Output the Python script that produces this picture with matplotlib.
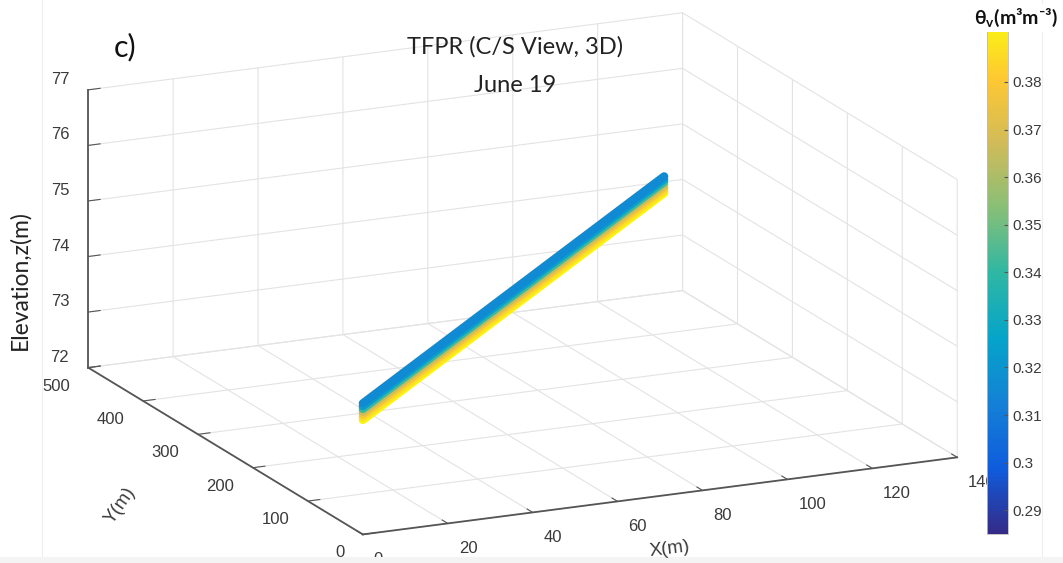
import numpy as np
import matplotlib
matplotlib.use("Agg")
import matplotlib.pyplot as plt
from matplotlib.colors import LinearSegmentedColormap, Normalize
from matplotlib.cm import ScalarMappable
from matplotlib.patches import Rectangle
from mpl_toolkits.mplot3d import proj3d

W, H, DPI = 1063, 563, 100

# transect end points (m) and elevation of the top of the section
transect_x = [0.0, 131.0]
transect_y = [0.0, 464.0]
surface_z = 74.36

# depth below the surface of each plotted layer and its volumetric water content
layer_depth = [0.00, 0.05, 0.10, 0.15, 0.20, 0.25, 0.30]
layer_theta = [0.316, 0.324, 0.342, 0.366, 0.377, 0.386, 0.392]

x_ticks = [0, 20, 40, 60, 80, 100, 120, 140]
y_ticks = [0, 100, 200, 300, 400, 500]
z_ticks = [72, 73, 74, 75, 76, 77]
cbar_ticks = [0.29, 0.30, 0.31, 0.32, 0.33, 0.34, 0.35, 0.36, 0.37, 0.38]
cbar_labels = ["0.29", "0.3", "0.31", "0.32", "0.33", "0.34", "0.35", "0.36", "0.37", "0.38"]
theta_min, theta_max = 0.285, 0.3945

parula = LinearSegmentedColormap.from_list(
    "parula",
    ["#352a87", "#0f5cdd", "#1481d6", "#06a4ca", "#2eb7a4",
     "#87bf77", "#d1bb59", "#fec832", "#f9fb0e"])
norm = Normalize(theta_min, theta_max)

AXIS_GREY = "#555555"
TEXT_GREY = "#3a3a3a"
GRID_GREY = "#e3e3e3"

plt.rcParams["grid.color"] = GRID_GREY
plt.rcParams["grid.linewidth"] = 0.8
plt.rcParams["font.family"] = ["Liberation Sans", "DejaVu Sans"]

fig = plt.figure(figsize=(W / DPI, H / DPI), dpi=DPI)
fig.patch.set_facecolor("white")

ax = fig.add_axes([0.05, 0.0, 0.85, 1.0], projection="3d", proj_type="ortho")
ax.view_init(elev=16.3, azim=-114.8)
ax.set_box_aspect((1, 1, 0.442))
ax.set_xlim(x_ticks[0], x_ticks[-1])
ax.set_ylim(y_ticks[0], y_ticks[-1])
ax.set_zlim(z_ticks[0], z_ticks[-1])
ax.set_xticks(x_ticks)
ax.set_yticks(y_ticks)
ax.set_zticks(z_ticks)
ax.set_xticklabels([str(v) for v in x_ticks], ha="left")
ax.set_yticklabels([str(v) for v in y_ticks], ha="right")
ax.set_zticklabels([str(v) for v in z_ticks], va="bottom")

for axis in (ax.xaxis, ax.yaxis, ax.zaxis):
    axis.set_pane_color((1, 1, 1, 0))
    axis.pane.set_edgecolor(GRID_GREY)
    axis.line.set_color(AXIS_GREY)
    axis.line.set_linewidth(1.3)
    axis._axinfo["tick"]["inward_factor"] = 0.0
    axis._axinfo["tick"]["outward_factor"] = 0.25
    axis._axinfo["grid"]["color"] = GRID_GREY
    axis._axinfo["grid"]["linewidth"] = 0.8
ax.tick_params(axis="both", colors=AXIS_GREY, labelcolor=TEXT_GREY, labelsize=12)
ax.tick_params(axis="z", colors=AXIS_GREY, labelcolor=TEXT_GREY, labelsize=12)
ax.xaxis.set_tick_params(pad=6)
ax.yaxis.set_tick_params(pad=3)

# moisture section: one layer per depth, deepest first so shallower layers sit on top
for depth, theta in sorted(zip(layer_depth, layer_theta), reverse=True):
    zs = [surface_z - depth, surface_z - depth]
    ax.plot(transect_x, transect_y, zs, color=parula(norm(theta)),
            linewidth=6.0, solid_capstyle="round")

# place the 3D box so that its corners fall on the intended pixel positions
box_pts = [(0, 500, 72), (140, 0, 72), (0, 500, 77), (0, 0, 72), (140, 500, 77)]
box_px = np.array([(88, 366), (957, 458), (88, 88), (363, 535), (683, 15)], float)


def corner_pixels():
    M = ax.get_proj()
    out = []
    for p in box_pts:
        xs, ys, _ = proj3d.proj_transform(np.array([p[0]]), np.array([p[1]]),
                                          np.array([p[2]]), M)
        dx, dy = ax.transData.transform((xs[0], ys[0]))
        out.append((dx, H - dy))
    return np.array(out)


for _ in range(3):
    fig.canvas.draw()
    cur = corner_pixels()
    pos = ax.get_position(original=True)
    cx, cy = (pos.x0 + pos.width / 2) * W, H - (pos.y0 + pos.height / 2) * H
    r = cur - np.array([cx, cy])
    rm, qm = r.mean(axis=0), box_px.mean(axis=0)
    k = np.sum((r - rm) * (box_px - qm)) / np.sum((r - rm) ** 2)
    c_new = qm - k * rm
    w_new, h_new = pos.width * k, pos.height * k
    ax.set_position([c_new[0] / W - w_new / 2, (H - c_new[1]) / H - h_new / 2,
                     w_new, h_new])

# titles and axis labels
title_font = ["Lato", "DejaVu Sans"]
fig.text(515 / W, 1 - 47 / H, "TFPR (C/S View, 3D)", ha="center", va="center",
         fontsize=17, family=title_font, color="#222222")
fig.text(515 / W, 1 - 85 / H, "June 19", ha="center", va="center",
         fontsize=17, family=title_font, color="#222222")
fig.text(125 / W, 1 - 47 / H, "c)", ha="center", va="center",
         fontsize=22, family=title_font, color="#111111")
fig.text(20 / W, 1 - 280 / H, "Elevation,z(m)", ha="center", va="center",
         rotation=90, fontsize=16.5, family=title_font, color="#222222")
fig.text(120 / W, 1 - 505 / H, "Y(m)", ha="center", va="center",
         rotation=55, fontsize=13.5, color=TEXT_GREY)
fig.text(670 / W, 1 - 549 / H, "X(m)", ha="center", va="center",
         rotation=7, fontsize=13.5, color=TEXT_GREY)

# colour bar
cax = fig.add_axes([987 / W, 1 - 534 / H, 21 / W, (534 - 13) / H])
sm = ScalarMappable(norm=norm, cmap=parula)
cb = fig.colorbar(sm, cax=cax, ticks=cbar_ticks)
cb.ax.set_yticklabels(cbar_labels)
cb.ax.tick_params(labelsize=11, colors=AXIS_GREY, labelcolor=TEXT_GREY,
                  direction="in", length=3, pad=3)
cb.outline.set_edgecolor("#bbbbbb")
cb.outline.set_linewidth(0.6)
fig.text(1016 / W, 1 - 18 / H, "θ$_{\\mathregular{v}}$(m³m⁻³)", ha="center",
         va="center", fontsize=14, fontweight="bold", family=title_font,
         color="#111111",
         bbox=dict(boxstyle="square,pad=0.15", facecolor="white", edgecolor="none"))

# light window frame around the plotting area
fig.add_artist(Rectangle((42 / W, 6 / H), 1000 / W, 1.2, transform=fig.transFigure,
                         facecolor="none", edgecolor="#eeeeee", linewidth=0.8))
fig.add_artist(Rectangle((0, 0), 1, 6 / H, transform=fig.transFigure,
                         facecolor="#f4f4f4", edgecolor="none"))

fig.savefig("out.png", dpi=DPI)
